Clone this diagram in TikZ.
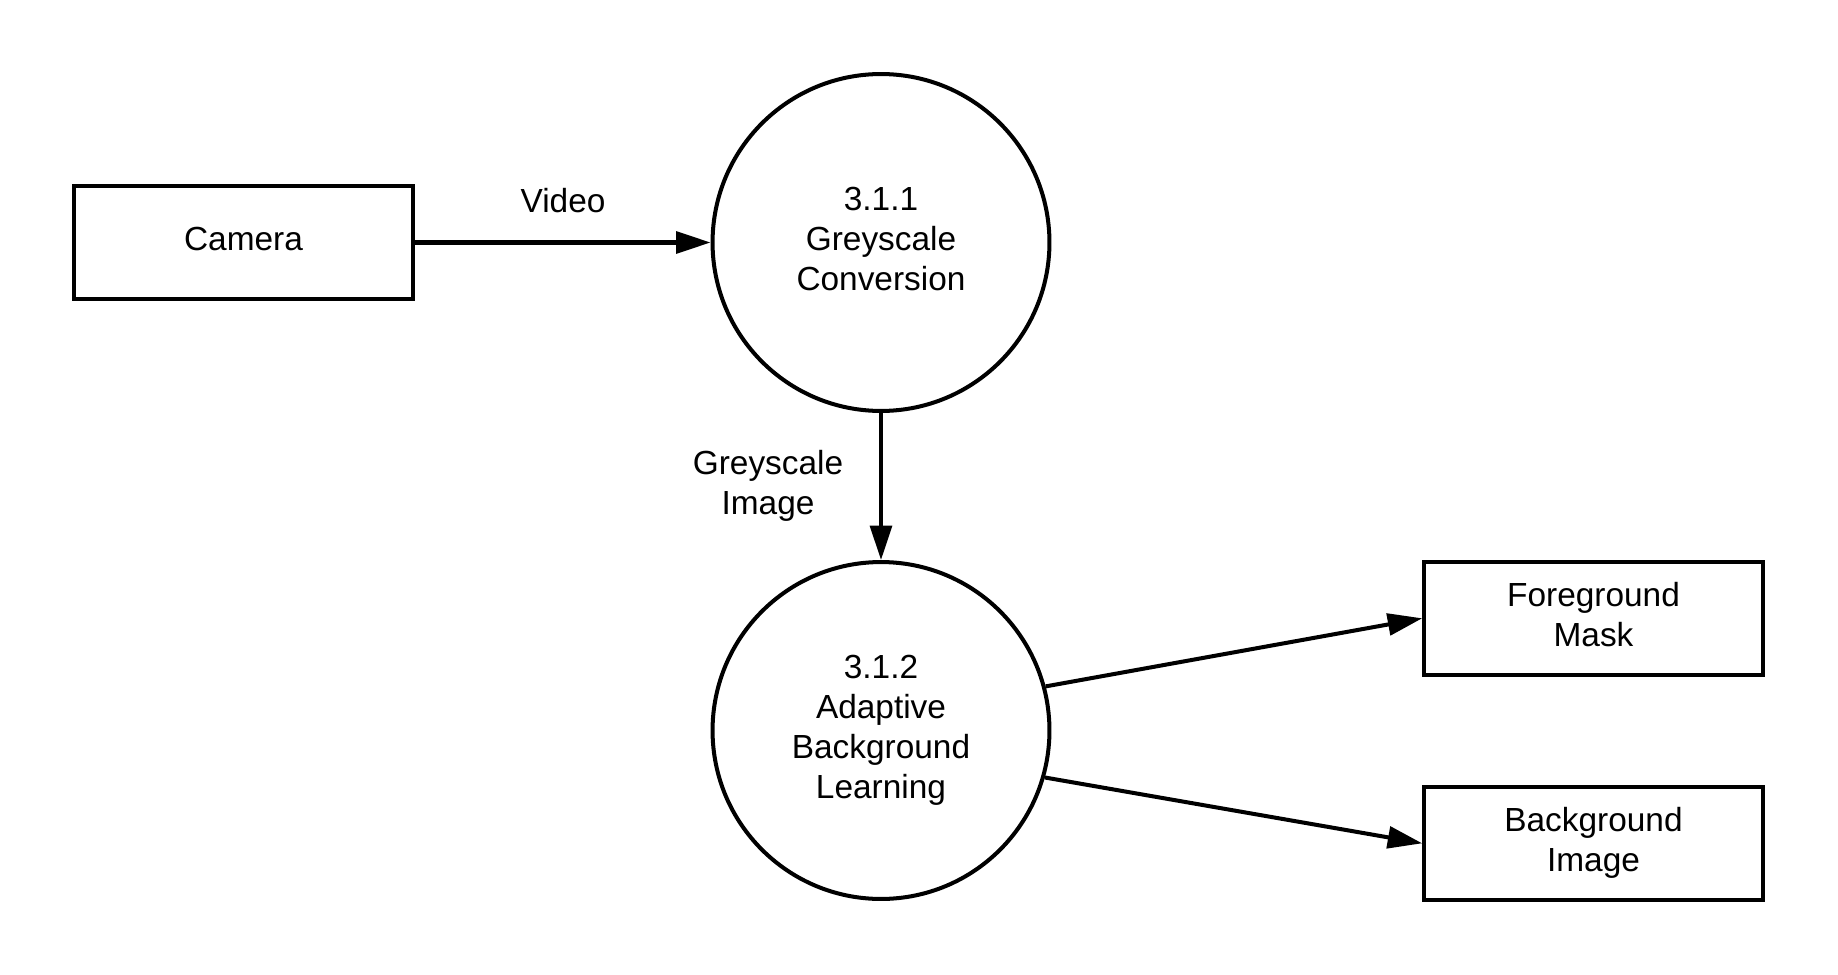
\documentclass[tikz,border=0pt]{standalone}
\usepackage{fontspec}
\setmainfont{Liberation Sans}
\usetikzlibrary{arrows.meta}
\begin{document}
\begin{tikzpicture}[x=0.42356pt,y=-0.42356pt,
  every node/.style={font=\fontsize{14.15pt}{16.95pt}\selectfont, text=black, align=center},
  entity/.style={draw=black, line width=1.7pt, rectangle, minimum width=143.4pt, minimum height=47.8pt, inner sep=0pt},
  process/.style={draw=black, line width=1.7pt, circle, minimum size=142.7pt, inner sep=0pt},
  flow/.style={draw=black, line width=1.7pt, -{Triangle[length=14.6pt,width=9.2pt]}},
  lbl/.style={inner sep=0pt}
]
\useasboundingbox (0,0) rectangle (1838,975);
\node[entity] (cam) at (243.5,242.5) {Camera\vphantom{g}};
\node[process] (c1) at (881,242.5) {3.1.1\\Greyscale\\Conversion\vphantom{g}};
\node[process] (c2) at (881,730.5) {3.1.2\\Adaptive\\Background\\Learning};
\node[entity] (fm) at (1593.5,618.3) {Foreground\\Mask\vphantom{g}};
\node[entity] (bi) at (1593.5,843.3) {Background\\Image};
\draw[flow] (cam.east) -- (c1.west);
\draw[flow] (c1.south) -- (c2.north);
\draw[flow] (c2.15.3) -- (fm.west);
\draw[flow] (c2.-16.2) -- (bi.west);
\node[lbl] (vid) at (563,201) {Video};
\node[lbl] (gi) at (768,486) {Greyscale\\Image};
\end{tikzpicture}
\end{document}
